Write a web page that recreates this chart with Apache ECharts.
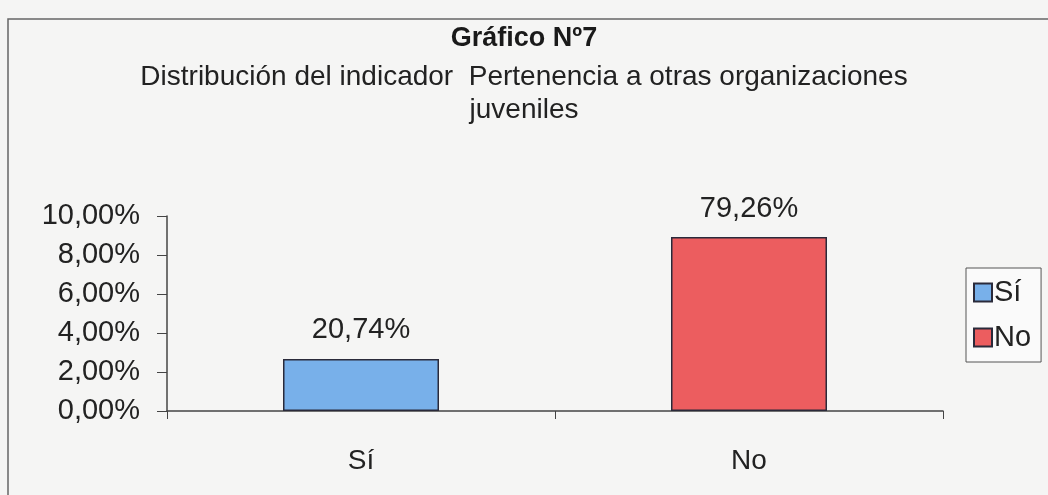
<!DOCTYPE html>
<html>
<head>
<meta charset="utf-8">
<script src="https://cdn.jsdelivr.net/npm/echarts@6/dist/echarts.min.js"></script>
<style>
  html, body { margin: 0; padding: 0; background: #f5f5f4; }
  #chart { width: 1048px; height: 495px; }
</style>
</head>
<body>
<div id="chart"></div>
<script>
// categories and what the bars show (bar height, label text as printed)
const categories = ['Sí', 'No'];
const barHeights = [2.67, 8.92];
const barLabels = ['20,74%', '79,26%'];
const barColors = ['#78b0ea', '#ec5d5f'];
const yMin = 0, yMax = 10, yStep = 2;
const titleLines = ['Gráfico Nº7', 'Distribución del indicador  Pertenencia a otras organizaciones', 'juveniles'];

const FONT = "'Liberation Sans', Arial, sans-serif";

// one series per category so the legend shows both, stacked so they share the slot
const series = categories.map(function (name, i) {
  return {
    name: name,
    type: 'bar',
    stack: 'all',
    barWidth: 156,
    data: categories.map(function (c, j) { return j === i ? barHeights[i] : null; }),
    itemStyle: { color: barColors[i], borderColor: '#2a2a3a', borderWidth: 1.5 },
    label: {
      show: true,
      position: 'top',
      distance: 14,
      fontFamily: FONT,
      fontSize: 29,
      color: '#222',
      formatter: function () { return barLabels[i]; }
    }
  };
});

const option = {
  backgroundColor: '#f5f5f4',
  animation: false,
  // each title line centred on its own
  title: [
    {
      text: titleLines[0], left: 'center', top: 20,
      textStyle: { fontFamily: FONT, fontSize: 27, fontWeight: 'bold', color: '#1a1a1a' }
    },
    {
      text: titleLines[1], left: 'center', top: 58,
      textStyle: { fontFamily: FONT, fontSize: 28, fontWeight: 'normal', color: '#222' }
    },
    {
      text: titleLines[2], left: 'center', top: 91,
      textStyle: { fontFamily: FONT, fontSize: 28, fontWeight: 'normal', color: '#222' }
    }
  ],
  legend: {
    orient: 'vertical',
    left: 966,
    top: 268,
    itemWidth: 18,
    itemHeight: 18,
    itemGap: 16,
    padding: [10, 10, 10, 7],
    backgroundColor: '#fafafa',
    borderColor: '#555',
    borderWidth: 1,
    borderRadius: 0,
    icon: 'rect',
    textStyle: { fontFamily: FONT, fontSize: 29, color: '#222', padding: [0, 0, 0, -3] },
    data: categories
  },
  grid: { left: 167, right: 105, top: 216, bottom: 84 },
  xAxis: {
    type: 'category',
    data: categories,
    axisLine: { lineStyle: { color: '#444', width: 1.5 } },
    axisTick: { show: true, length: 8, lineStyle: { color: '#444' } },
    axisLabel: { fontFamily: FONT, fontSize: 28, color: '#222', margin: 36 }
  },
  yAxis: {
    type: 'value',
    min: yMin,
    max: yMax,
    interval: yStep,
    axisLine: { show: true, lineStyle: { color: '#444', width: 1.5 } },
    axisTick: { show: true, length: 10, lineStyle: { color: '#444' } },
    splitLine: { show: false },
    axisLabel: {
      fontFamily: FONT,
      fontSize: 29,
      color: '#222',
      margin: 27,
      formatter: function (v) { return v.toFixed(2).replace('.', ',') + '%'; }
    }
  },
  graphic: [
    {
      type: 'rect',
      shape: { x: 8, y: 19, width: 1100, height: 520 },
      style: { fill: 'none', stroke: '#666', lineWidth: 1.5 },
      silent: true
    }
  ],
  series: series
};

var chart = echarts.init(document.getElementById('chart'));
chart.setOption(option);
</script>
</body>
</html>
